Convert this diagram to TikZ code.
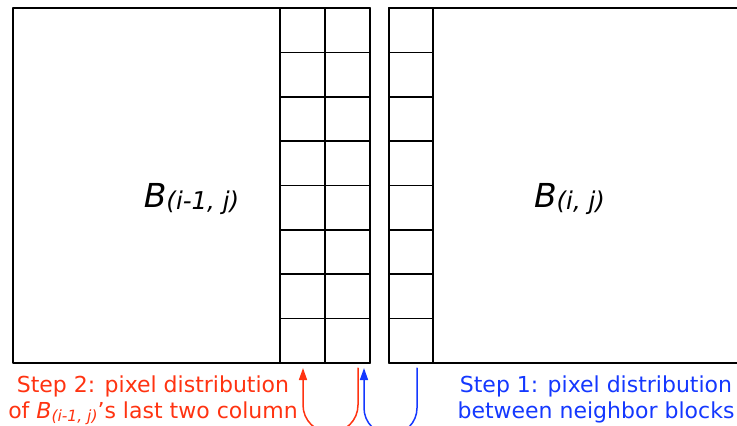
\documentclass[tikz,border=0pt]{standalone}
\usepackage{fontspec}
\setmainfont{DejaVu Sans}
\usetikzlibrary{arrows.meta,positioning}
\definecolor{stepred}{HTML}{FF3311}
\definecolor{stepblue}{HTML}{1438FF}
\tikzset{
    every picture/.style={line cap=round,line join=round},
    blockbox/.style={draw=black,line width=1.8pt,inner sep=0pt,outer sep=0pt,
      minimum width=357pt,minimum height=355pt,anchor=north west},
    pixcell/.style={draw=black,line width=1.6pt,inner sep=0pt,outer sep=0pt,
      minimum width=45pt,minimum height=44.375pt,anchor=north west},
    blocklabel/.style={font=\itshape\fontsize{33}{36}\selectfont,
      inner sep=0pt,anchor=base},
    steptext/.style={font=\fontsize{22}{26}\selectfont,align=center,
      inner sep=0pt,anchor=north},
    steparrow/.style={-{Triangle[length=12pt,width=8pt]},line width=1.5pt}
}
\newcommand{\blocksub}[1]{\raisebox{-2.5pt}{\fontsize{24.5}{25}\selectfont #1}}
\newcommand{\textsub}[1]{\raisebox{-3pt}{\fontsize{15.5}{16}\selectfont #1}}

\begin{document}
\begin{tikzpicture}[x=1pt,y=-1pt]
  \useasboundingbox (0,0) rectangle (737,426);
  \clip (0,0) rectangle (737,426);
  % the two neighbour blocks
  \node[blockbox] (blkL) at (13,8) {};
  \node[blockbox] (blkR) at (389,8) {};
  \node[blocklabel] (labL) at ([yshift=-21.5pt]blkL.center) {B\blocksub{(i-1, j)}};
  \node[blocklabel] (labR) at ([yshift=-21.5pt,xshift=2pt]blkR.center) {B\blocksub{(i, j)}};
  % pixel columns at the shared border
  \foreach \c in {0,1} {
    \foreach \r in {0,...,7} {
      \node[pixcell] (cL\c\r) at (280+45*\c,8+44.375*\r) {};
    }
  }
  \foreach \r in {0,...,7} {
    \node[pixcell,minimum width=44pt] (cR\r) at (389,8+44.375*\r) {};
  }
  % step labels
  \node[steptext,text=stepred] (step2) at (153,376)
    {Step 2: pixel distribution\\of {\itshape B\textsub{(i-1, j)}}’s last two column};
  \node[steptext,text=stepblue] (step1) at (596,376)
    {Step 1: pixel distribution\\between neighbor blocks};
  % U-shaped arrows, their bottoms run off the page
  \coordinate (redEnd) at (358,368);
  \coordinate (redTip) at (303,368);
  \coordinate (blueEnd) at (417,368);
  \coordinate (blueTip) at (364,368);
  \draw[steparrow,stepred] (redEnd) -- ++(0,37)
    arc[start angle=0,end angle=180,radius=27.5] -- (redTip);
  \draw[steparrow,stepblue] (blueEnd) -- ++(0,40)
    arc[start angle=0,end angle=180,radius=26.5] -- (blueTip);
\end{tikzpicture}
\end{document}
